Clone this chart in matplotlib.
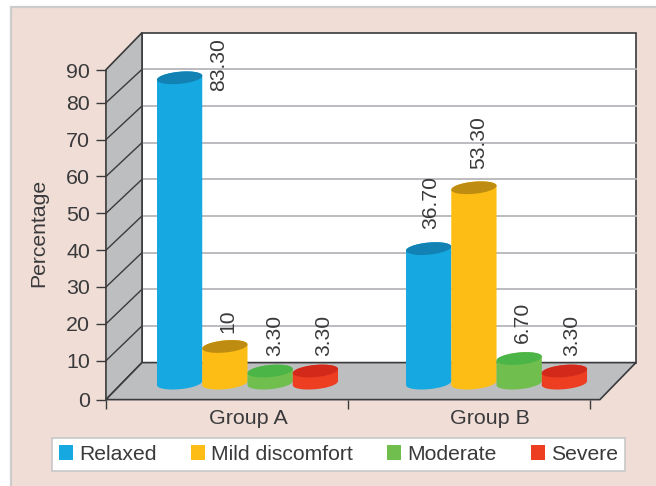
import matplotlib
matplotlib.use('Agg')
import matplotlib.pyplot as plt
import numpy as np
from matplotlib.patches import Rectangle, Patch, ConnectionPatch

plt.rcParams['font.family'] = ['Liberation Sans', 'DejaVu Sans']

groups = ['Group A', 'Group B']
series = ['Relaxed', 'Mild discomfort', 'Moderate', 'Severe']
group_a = [83.3, 10, 3.3, 3.3]
group_b = [36.7, 53.3, 6.7, 3.3]
labels_a = ['83.30', '10', '3.30', '3.30']
labels_b = ['36.70', '53.30', '6.70', '3.30']
y_ticks = [0, 10, 20, 30, 40, 50, 60, 70, 80, 90]

side_colors = ['#16a9e1', '#fdbd14', '#6fbe4e', '#ee3e22']
top_colors = ['#1281b3', '#be8c10', '#4bb548', '#d2291a']
ink = '#3a3a3c'
wall = '#bcbec0'
grid = '#b5b5bb'

W, H = 656, 486
# back plane and front axis of the box, in figure pixels
BACK_L, BACK_R, BACK_T, BACK_B = 142, 626, 32.7, 362.6
FRONT_L, FRONT_R, FRONT_T, FRONT_B = 106, 590, 70, 399.7

# the front axis runs a little tighter than the back wall at its ends
axis_knots = [0, 10, 80, 90]
axis_heights = [0, 39, 297, 329.7]

# depth of the box and cylinder shape, in back wall data units
depth_x, depth_y = 0.149, 10.1
back_end = 2.041
bar_w = 0.187
ell_b, ell_tilt = 1.65, 0.55
base = -5.6
group_pos = [0.436, 1.465]
group_label_pos = [0.587, 1.585]

# label shift from the top of each cylinder, pixels
offsets_a = [(38.5, -13.5), (2.5, 13), (5, 15), (8, 15)]
offsets_b = [(2.5, 20), (5, 18.5), (3, 15.5), (7.5, 15)]

fig = plt.figure(figsize=(W / 100, H / 100), dpi=100, facecolor='white')
panel = Rectangle((11 / W, -0.02), 1.1, (H - 7) / H + 0.02, transform=fig.transFigure,
                  facecolor='#efddd6', edgecolor='#cccccc', linewidth=1.6, zorder=-1)
fig.add_artist(panel)

back = fig.add_axes([BACK_L / W, 1 - BACK_B / H, (BACK_R - BACK_L) / W, (BACK_B - BACK_T) / H])
back.set_xlim(0, 2)
back.set_ylim(0, 90)
back.axis('off')

front = fig.add_axes([FRONT_L / W, 1 - FRONT_B / H, (FRONT_R - FRONT_L) / W, (FRONT_B - FRONT_T) / H])
front.patch.set_visible(False)
for s in front.spines.values():
    s.set_visible(False)
front.set_yscale('function', functions=(lambda v: np.interp(v, axis_knots, axis_heights),
                                        lambda h: np.interp(h, axis_heights, axis_knots)))
front.set_xlim(0, 2)
front.set_ylim(0, 90)

# back wall, side wall, floor
back.fill([0, back_end, back_end, 0], [0, 0, 90, 90],
          facecolor='white', edgecolor=ink, lw=1.2, clip_on=False, zorder=1)
back.fill([-depth_x, 0, 0, -depth_x], [-depth_y, 0, 90, 90 - depth_y],
          facecolor=wall, edgecolor=ink, lw=1.2, clip_on=False, zorder=1.1)
back.fill([-depth_x, back_end - depth_x, back_end, 0], [-depth_y, -depth_y, 0, 0],
          facecolor=wall, edgecolor=ink, lw=1.2, clip_on=False, zorder=1.1)

for v in y_ticks[1:-1]:
    back.plot([0, back_end], [v, v], color=grid, lw=1.3, clip_on=False, zorder=1.05)
    fig.add_artist(ConnectionPatch(xyA=(0, v), coordsA=front.transData, xyB=(0, v),
                                   coordsB=back.transData, color=ink, lw=1.0))


def cylinder(cx, value, side, top):
    t = np.linspace(0, 2 * np.pi, 120)
    a = bar_w / 2
    low = np.linspace(np.pi, 2 * np.pi, 60)
    high = np.linspace(0, np.pi, 60)
    xs = np.r_[cx + a * np.cos(low), cx + a * np.cos(high)]
    ys = np.r_[base + ell_b * np.sin(low) + ell_tilt * np.cos(low),
               base + value + ell_b * np.sin(high) + ell_tilt * np.cos(high)]
    back.fill(xs, ys, color=side, lw=0, clip_on=False, zorder=2)
    back.fill(cx + a * np.cos(t), base + value + ell_b * np.sin(t) + ell_tilt * np.cos(t),
              color=top, lw=0, clip_on=False, zorder=2)


for pos, values, texts, offs in zip(group_pos, [group_a, group_b], [labels_a, labels_b],
                                    [offsets_a, offsets_b]):
    for i, v in enumerate(values):
        cx = pos + (i - 1.5) * bar_w
        cylinder(cx, v, side_colors[i], top_colors[i])
        dx, dy = offs[i]
        back.annotate(texts[i], (cx, base + v), xytext=(dx * 0.72, dy * 0.72),
                      textcoords='offset points', rotation=90, ha='center', va='bottom',
                      fontsize=15.2, color=ink, zorder=3, annotation_clip=False)

front.set_yticks(y_ticks)
front.set_yticks([], minor=True)
front.set_xticks([0, 1, 2])
front.set_xticklabels([])
front.set_xticks(group_label_pos, groups, minor=True)
front.tick_params(axis='y', length=7.2, width=1.0, pad=4.3, color=ink, labelcolor=ink, labelsize=15.4)
front.tick_params(axis='x', which='major', length=6.5, width=1.0, color=ink)
front.tick_params(axis='x', which='minor', length=0, pad=7, labelcolor=ink, labelsize=15.4)

front.set_ylabel('Percentage', fontsize=15.2, color=ink)
front.yaxis.set_label_coords((48 - FRONT_L) / (FRONT_R - FRONT_L), 0.507)

handles = [Patch(facecolor=c, edgecolor='none') for c in side_colors]
leg = fig.legend(handles, series, ncol=4, loc='center',
                 bbox_to_anchor=(338.5 / W, 1 - 454.4 / H), fontsize=15.2, frameon=True,
                 fancybox=False, framealpha=1, facecolor='white', edgecolor='#c8c8c8',
                 handlelength=0.67, handleheight=0.7, handletextpad=0.3, columnspacing=1.6,
                 borderpad=0.35, borderaxespad=0, labelcolor=ink)
leg.get_frame().set_linewidth(1.2)

fig.savefig('out.png', dpi=100, facecolor=fig.get_facecolor())
